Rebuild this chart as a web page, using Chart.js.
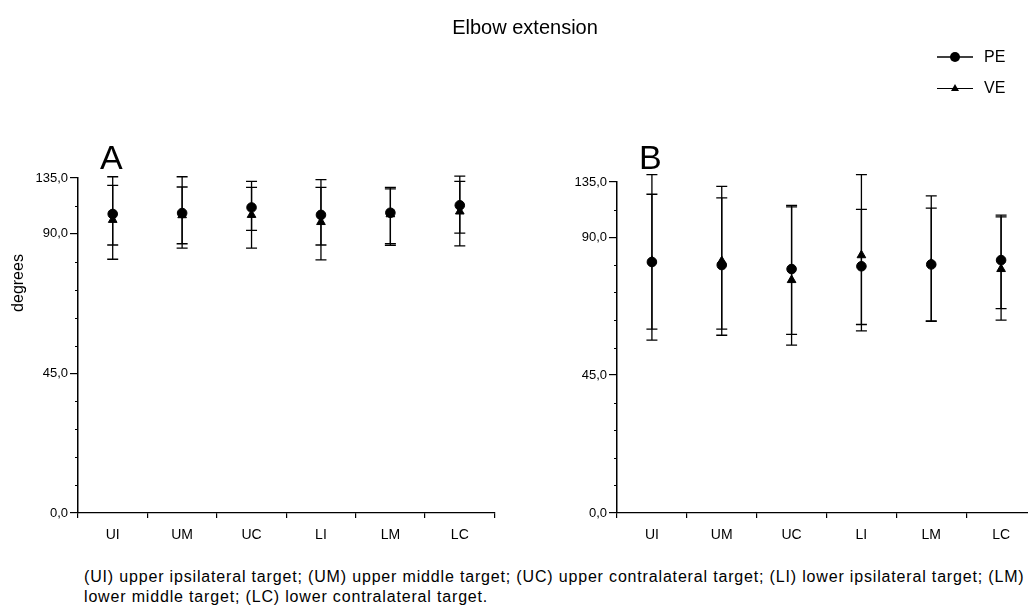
<!DOCTYPE html>
<html>
<head>
<meta charset="utf-8">
<script src="https://cdn.jsdelivr.net/npm/chart.js@4.4.0/dist/chart.umd.min.js"></script>
<style>
html, body { margin: 0; padding: 0; background: #fff; overflow: hidden; width: 1028px; height: 607px; }
body { position: relative; font-family: "Liberation Sans", Arial, sans-serif; color: #000; }
canvas { position: absolute; top: 0; }
#chartA { left: 0; }
#chartB { left: 520px; }
.abs { position: absolute; white-space: nowrap; }
#title { left: 375px; width: 300px; top: 15px; text-align: center; font-size: 20px; line-height: 24px; }
.letter { font-size: 34px; line-height: 34px; top: 140px; }
#degrees { left: -22px; top: 273px; width: 80px; text-align: center; font-size: 16px; line-height: 20px; transform: rotate(-90deg); }
#caption { left: 84px; top: 567px; font-size: 16px; letter-spacing: 0.83px; line-height: 20px; }
.leg { left: 936px; font-size: 16px; line-height: 20px; display: flex; align-items: center; }
.leg svg { margin-right: 10px; }
</style>
</head>
<body>
<canvas id="chartA" width="520" height="560"></canvas>
<canvas id="chartB" width="560" height="560"></canvas>
<div id="title" class="abs">Elbow extension</div>
<div class="abs letter" style="left:100px">A</div>
<div class="abs letter" style="left:639px">B</div>
<div id="degrees" class="abs">degrees</div>
<div id="legend"></div>
<div id="caption" class="abs">(UI) upper ipsilateral target; (UM) upper middle target; (UC) upper contralateral target; (LI) lower ipsilateral target; (LM)<br>lower middle target; (LC) lower contralateral target.</div>
<script>
const categories = ['UI', 'UM', 'UC', 'LI', 'LM', 'LC'];
const seriesNames = ['PE', 'VE'];

// y axis: top of the axis sits at 108 but is labelled 135,0 in the original
const tickValues = [0, 45, 90, 108];
const tickLabels = ['0,0', '45,0', '90,0', '135,0'];
const minorStep = 9;

// panel A - means and error bar ends (degrees)
const peMeanA = [96.4, 96.7, 98.5, 96.1, 96.8, 99.2];
const peLowA  = [86.4, 86.8, 91.1, 86.4, 86.8, 90.2];
const peHighA = [105.6, 105.1, 105.0, 105.0, 104.5, 106.9];
const veMeanA = [94.5, 96.0, 96.1, 93.8, 96.3, 97.2];
const veLowA  = [81.8, 85.4, 85.4, 81.6, 86.3, 86.1];
const veHighA = [108.4, 108.4, 106.9, 107.5, 105.0, 108.6];

// panel B
const peMeanB = [81.9, 80.9, 79.6, 80.5, 81.1, 82.5];
const peLowB  = [60.0, 60.0, 58.3, 61.5, 62.7, 66.7];
const peHighB = [104.0, 102.8, 99.9, 99.1, 99.5, 96.6];
const veMeanB = [82.3, 82.2, 76.0, 84.1, 81.4, 79.6];
const veLowB  = [56.4, 58.0, 54.8, 59.4, 62.5, 62.9];
const veHighB = [110.4, 106.6, 100.4, 110.4, 103.5, 97.2];

// error bars + minor ticks, drawn with the chart's own scales
const errorBars = {
    id: 'errorBars',
    beforeDatasetsDraw(chart) {
        const ctx = chart.ctx;
        const y = chart.scales.y;
        ctx.save();
        ctx.strokeStyle = '#000';
        ctx.lineWidth = 1.3;
        chart.data.datasets.forEach((ds, di) => {
            const meta = chart.getDatasetMeta(di);
            meta.data.forEach((pt, i) => {
                const top = y.getPixelForValue(ds.high[i]);
                const bot = y.getPixelForValue(ds.low[i]);
                ctx.beginPath();
                ctx.moveTo(pt.x, top);
                ctx.lineTo(pt.x, bot);
                ctx.moveTo(pt.x - 5.5, top);
                ctx.lineTo(pt.x + 5.5, top);
                ctx.moveTo(pt.x - 5.5, bot);
                ctx.lineTo(pt.x + 5.5, bot);
                ctx.stroke();
            });
        });
        // minor ticks on the y axis
        const x0 = chart.chartArea.left;
        ctx.lineWidth = 1;
        for (let v = 0; v <= y.max; v += minorStep) {
            if (tickValues.includes(v)) continue;
            const py = Math.round(y.getPixelForValue(v)) + 0.5;
            ctx.beginPath();
            ctx.moveTo(x0 - 3, py);
            ctx.lineTo(x0, py);
            ctx.stroke();
        }
        ctx.restore();
    }
};

function makeChart(id, pe, ve, yWidth, pad) {
    return new Chart(document.getElementById(id), {
        type: 'line',
        data: {
            labels: categories,
            datasets: [
                {
                    label: seriesNames[0],
                    data: pe[0], low: pe[1], high: pe[2],
                    showLine: false,
                    pointStyle: 'circle',
                    pointRadius: 4.8,
                    pointBackgroundColor: '#000',
                    pointBorderColor: '#000'
                },
                {
                    label: seriesNames[1],
                    data: ve[0], low: ve[1], high: ve[2],
                    showLine: false,
                    pointStyle: 'triangle',
                    pointRadius: 5,
                    pointBackgroundColor: '#000',
                    pointBorderColor: '#000'
                }
            ]
        },
        options: {
            responsive: false,
            animation: false,
            layout: { padding: pad },
            plugins: {
                legend: { display: false },
                tooltip: { enabled: false }
            },
            scales: {
                x: {
                    offset: true,
                    border: { color: '#000', width: 1.3 },
                    grid: { offset: true, drawOnChartArea: false, tickLength: 5, color: '#000', lineWidth: 1.2 },
                    ticks: { color: '#000', font: { family: 'Liberation Sans', size: 14 }, padding: 9 },
                    afterFit: s => { s.height = 47; }
                },
                y: {
                    min: 0,
                    max: 108,
                    border: { color: '#000', width: 1.5 },
                    grid: { drawOnChartArea: false, tickLength: 8, color: '#000', lineWidth: 1.2 },
                    afterBuildTicks: s => { s.ticks = tickValues.map(v => ({ value: v })); },
                    ticks: {
                        color: '#000',
                        padding: 2,
                        font: { family: 'Liberation Sans', size: 13 },
                        callback: v => tickLabels[tickValues.indexOf(v)]
                    },
                    afterFit: s => { s.width = yWidth; }
                }
            }
        },
        plugins: [errorBars]
    });
}

makeChart('chartA', [peMeanA, peLowA, peHighA], [veMeanA, veLowA, veHighA], 78,
    { top: 178, left: 0, right: 25.5, bottom: 0 });
makeChart('chartB', [peMeanB, peLowB, peHighB], [veMeanB, veLowB, veHighB], 97,
    { top: 182, left: 0, right: 44, bottom: 0 });

// legend from the series names
const legend = document.getElementById('legend');
const icons = [
    '<svg width="38" height="12"><line x1="1" y1="6" x2="37" y2="6" stroke="#000" stroke-width="1.5"/><circle cx="19" cy="6" r="5" fill="#000"/></svg>',
    '<svg width="38" height="12"><line x1="1" y1="6.5" x2="37" y2="6.5" stroke="#000" stroke-width="1"/><polygon points="19,2 23,9 15,9" fill="#000"/></svg>'
];
seriesNames.forEach((name, i) => {
    const row = document.createElement('div');
    row.className = 'abs leg';
    row.style.top = (47 + i * 31) + 'px';
    row.innerHTML = icons[i] + '<span>' + name + '</span>';
    legend.appendChild(row);
});
</script>
</body>
</html>
